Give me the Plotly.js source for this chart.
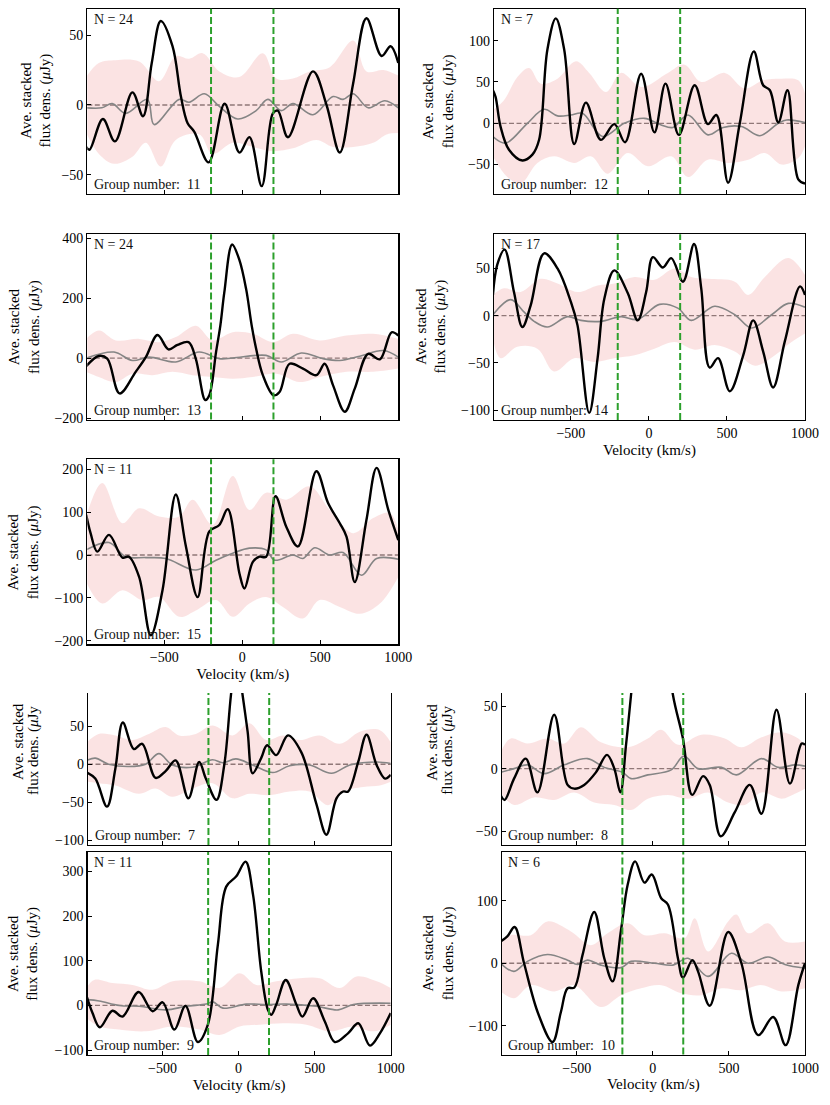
<!DOCTYPE html>
<html>
<head>
<meta charset="utf-8">
<script src="https://cdn.plot.ly/plotly-3.0.1.min.js"></script>
<style>
  html, body { margin: 0; padding: 0; background: #fff; }
  #graph { width: 830px; height: 1105px; }
</style>
</head>
<body>
<div id="graph"></div>
<script>
// edges of the line window, km/s (green dashed lines)
var windowEdges = [-200, 200];

// group labels and number of stacked sources per panel (null = cropped off)
var groupNumbers = [11, 12, 13, 14, 15, 7, 8, 9, 10];
var nSources = [24, 7, 24, 17, 11, null, null, 11, 6];

// x tick values (km/s)
var velTicks = [-500, 0, 500, 1000];

// ---- group 11 ----
var g11Vel = [-1000, -979, -893, -816, -704, -636, -580, -522, -447, -393, -350, -308, -215, -113, -18, 46, 125, 196, 228, 293, 453, 540, 625, 710, 796, 893, 951, 1000];
var g11Flux = [-30, -32, -10, -26, 9, -8, 30, 60, 42, 6, -13, -19, -41, 1, -34, -23, -58, -6, -4, -23, 24, 0, -34, 15, 62, 35, 42, 30];
var g11GreyVel = [-1000, -900, -833, -747, -608, -565, -404, -340, -243, -147, -29, 89, 164, 250, 325, 453, 582, 646, 711, 807, 914, 1000];
var g11Grey = [-2, -2, 1, -6, 4, -14, 4, 2, 8, -1, -10, -4, 4, -4, 1, -7, 6, 4, 8, -2, 3, -2];
var g11HiVel = [-1000, -919, -811, -661, -533, -426, -340, -254, -147, -18, 132, 218, 325, 432, 561, 711, 796, 904, 1000];
var g11Hi = [20, 30, 32, 31, 17, 35, 33, 37, 24, 20, 37, 19, 19, 24, 27, 46, 24, 25, 21];
var g11LoVel = [-1000, -919, -822, -704, -618, -522, -426, -275, -190, -61, 68, 196, 325, 475, 582, 711, 839, 925, 1000];
var g11Lo = [-20, -35, -42, -37, -27, -44, -25, -21, -35, -27, -30, -33, -31, -25, -30, -30, -27, -21, -20];

// ---- group 12 ----
var g12Vel = [-1000, -983, -951, -897, -811, -747, -704, -651, -597, -543, -479, -404, -308, -222, -153, -50, 35, 106, 192, 293, 378, 432, 507, 582, 672, 732, 775, 829, 888, 957, 1000];
var g12Flux = [40, 32, -4, -32, -45, -38, -20, 89, 127, 89, -25, 25, -20, -1, -23, 60, -11, 48, -14, 46, -1, 10, -72, 0, 87, 46, 40, 1, 40, -68, -73];
var g12GreyVel = [-1000, -919, -779, -672, -586, -501, -426, -297, -158, -29, 78, 153, 250, 378, 475, 593, 711, 829, 882, 1000];
var g12Grey = [-16, -24, 0, 17, 9, 10, 12, -16, 0, 6, -2, -5, 10, -14, -5, -4, -15, 0, 4, 1];
var g12HiVel = [-1000, -929, -843, -768, -693, -586, -468, -383, -275, -179, -50, 121, 228, 335, 486, 614, 732, 850, 957, 1000];
var g12Hi = [16, 28, 56, 67, 48, 54, 75, 61, 38, 61, 44, 61, 71, 50, 61, 42, 52, 54, 52, 36];
var g12LoVel = [-1000, -908, -822, -715, -608, -479, -372, -265, -136, -7, 143, 250, 378, 507, 636, 743, 850, 957, 1000];
var g12Lo = [-40, -65, -73, -48, -40, -48, -40, -61, -36, -52, -40, -65, -44, -48, -44, -36, -50, -42, -28];

// ---- group 13 ----
var g13Vel = [-1000, -919, -865, -786, -683, -618, -543, -473, -415, -344, -298, -237, -211, -168, -140, -115, -65, -20, 25, 60, 89, 132, 200, 239, 303, 389, 475, 528, 582, 657, 721, 807, 882, 957, 1000];
var g13Flux = [-27, 7, -2, -118, -46, 3, 77, 29, 44, 53, -2, -140, -124, 20, 110, 219, 379, 330, 230, 110, 31, -57, -124, -113, -19, -35, -57, -19, -91, -179, -102, 14, -4, 86, 75];
var g13GreyVel = [-1000, -822, -704, -597, -426, -276, -147, -61, 153, 250, 378, 518, 625, 753, 904, 1000];
var g13Grey = [0, 20, -8, 3, -13, 20, -2, 0, 9, -13, 17, -2, -8, 6, 25, 3];
var g13HiVel = [-1000, -919, -811, -661, -533, -426, -297, -190, -61, 68, 196, 325, 496, 668, 839, 1000];
var g13Hi = [64, 92, 59, 64, 53, 70, 108, 59, 86, 81, 53, 81, 59, 75, 81, 64];
var g13LoVel = [-1000, -919, -811, -704, -575, -447, -318, -190, -61, 68, 218, 368, 496, 668, 839, 1000];
var g13Lo = [-46, -63, -80, -52, -57, -46, -57, -63, -69, -63, -52, -80, -63, -46, -46, -35];

// ---- group 14 ----
var g14Vel = [-1000, -972, -925, -865, -811, -758, -672, -586, -501, -458, -383, -329, -286, -222, -136, -72, -18, 25, 89, 143, 218, 289, 335, 389, 443, 518, 604, 668, 732, 796, 871, 968, 1000];
var g14Flux = [22, 54, 70, 25, -12, 11, 66, 50, 15, -10, -103, -45, 18, 48, 24, -5, 25, 62, 51, 61, 36, 76, 29, -55, -45, -80, -42, -5, -38, -76, -27, 31, 22];
var g14GreyVel = [-1000, -886, -801, -736, -651, -522, -436, -308, -179, -72, 68, 185, 271, 421, 550, 657, 786, 893, 1000];
var g14Grey = [1, 17, 4, -6, -12, -1, -5, -6, -1, -4, 12, 8, -5, 10, 1, -13, 1, 13, 9];
var g14HiVel = [-1000, -929, -822, -694, -586, -458, -329, -222, -93, 35, 164, 271, 378, 550, 636, 743, 893, 1000];
var g14Hi = [22, 29, 25, 39, 34, 25, 32, 34, 41, 38, 50, 41, 39, 36, 22, 41, 61, 43];
var g14LoVel = [-1000, -951, -844, -715, -608, -479, -350, -222, -93, 35, 164, 293, 421, 550, 679, 807, 914, 1000];
var g14Lo = [-24, -45, -33, -35, -59, -45, -49, -45, -42, -35, -28, -36, -31, -38, -53, -42, -28, -19];

// ---- group 15 ----
var g15Vel = [-1000, -972, -929, -854, -768, -726, -661, -586, -511, -426, -361, -286, -211, -147, -93, -18, 14, 68, 110, 153, 213, 282, 357, 475, 550, 625, 668, 721, 796, 861, 936, 1000];
var g15Flux = [94, 51, 8, 47, -6, -4, -51, -187, -82, 141, 20, -98, 55, 70, 107, -43, -78, -16, -4, -4, 137, 66, 20, 195, 121, 74, 43, -63, 82, 203, 105, 35];
var g15GreyVel = [-1000, -854, -747, -618, -490, -297, -168, -61, 46, 153, 207, 325, 389, 464, 561, 646, 764, 861, 1000];
var g15Grey = [12, 29, -4, -6, -8, -35, -12, 4, 16, 12, -12, 0, -8, 17, 0, 6, -47, -8, -10];
var g15HiVel = [-1000, -897, -768, -661, -533, -404, -318, -190, -61, 46, 153, 282, 432, 561, 711, 839, 946, 1000];
var g15Hi = [90, 168, 74, 109, 90, 90, 129, 70, 184, 105, 145, 129, 160, 105, 51, 86, 98, 59];
var g15LoVel = [-1000, -897, -768, -640, -533, -404, -297, -168, -61, 46, 153, 260, 389, 496, 625, 754, 882, 1000];
var g15Lo = [-63, -113, -82, -105, -98, -144, -129, -105, -144, -113, -98, -121, -148, -105, -121, -137, -113, -51];

// ---- group 7 ----
var g7Vel = [-1000, -945, -868, -813, -764, -691, -636, -548, -482, -416, -332, -261, -217, -147, -96, -52, -15, 25, 58, 91, 147, 186, 246, 323, 411, 510, 577, 643, 687, 720, 786, 841, 907, 963, 1000];
var g7Flux = [-11, -19, -56, -6, 55, 20, 27, -18, -9, 5, -45, 3, -19, -47, -1, 91, 150, 91, 43, -12, 8, 25, 12, 38, 16, -52, -93, -45, -36, -36, 3, 39, -1, -19, -14];
var g7GreyVel = [-1000, -945, -857, -724, -614, -526, -438, -305, -173, -107, -19, 91, 224, 334, 466, 610, 731, 907, 1000];
var g7Grey = [5, 8, 0, -3, 0, 14, -1, -4, 6, 2, 7, -1, -11, -2, -1, -12, -1, 3, 1];
var g7HiVel = [-1000, -923, -813, -702, -592, -482, -394, -283, -173, -41, 69, 180, 290, 400, 533, 665, 797, 929, 1000];
var g7Hi = [29, 40, 38, 32, 40, 49, 38, 40, 51, 38, 54, 32, 38, 32, 38, 27, 43, 45, 29];
var g7LoVel = [-1000, -923, -813, -658, -548, -438, -305, -173, -41, 69, 202, 334, 466, 588, 687, 819, 929, 1000];
var g7Lo = [-23, -25, -28, -39, -32, -43, -32, -25, -45, -39, -41, -36, -36, -54, -36, -30, -28, -23];

// ---- group 8 ----
var g8Vel = [-1000, -974, -912, -835, -758, -648, -560, -516, -451, -374, -301, -253, -213, -176, -143, -90, -20, 60, 132, 198, 259, 330, 374, 446, 538, 637, 714, 813, 901, 978, 1000];
var g8Flux = [-21, -25, -8, 8, -19, 43, -13, -16, -13, -3, 11, 0, -19, 19, 59, 120, 150, 130, 59, 24, -21, -6, -13, -54, -35, -13, -36, 47, -12, 20, 19];
var g8GreyVel = [-1000, -912, -824, -714, -582, -429, -319, -198, -143, -33, 121, 204, 297, 451, 549, 714, 824, 934, 1000];
var g8Grey = [-3, 0, 3, -4, 3, 8, 1, -3, -8, -5, -1, 10, 0, 1, -5, 8, 1, 3, 2];
var g8HiVel = [-1000, -934, -824, -692, -582, -473, -341, -165, -33, 55, 165, 319, 473, 582, 714, 846, 956, 1000];
var g8Hi = [13, 24, 20, 24, 20, 33, 21, 17, 24, 31, 19, 27, 24, 17, 25, 29, 24, 19];
var g8LoVel = [-1000, -912, -780, -648, -516, -385, -253, -143, -33, 99, 231, 363, 495, 604, 714, 846, 934, 1000];
var g8Lo = [-19, -29, -23, -25, -19, -27, -29, -33, -24, -21, -24, -19, -27, -29, -19, -24, -20, -16];

// ---- group 9 ----
var g9Vel = [-1000, -960, -912, -829, -763, -657, -565, -499, -422, -349, -268, -202, -136, -81, -15, 46, 95, 149, 193, 215, 248, 310, 380, 420, 490, 567, 633, 721, 787, 864, 930, 1000];
var g9Flux = [22, -17, -49, -12, -25, 30, -13, 7, -54, -1, -82, -43, 136, 266, 289, 322, 248, 76, -10, -21, 2, 57, 2, -25, 16, -36, -82, -62, -40, -90, -62, -17];
var g9GreyVel = [-1000, -916, -785, -653, -477, -345, -213, -169, -103, 51, 182, 314, 512, 655, 754, 1000];
var g9Grey = [13, 10, 0, -2, -10, -2, 3, 8, -6, 3, 2, 3, -2, -10, 2, 5];
var g9HiVel = [-1000, -949, -829, -697, -565, -433, -257, -125, 7, 116, 248, 402, 534, 666, 776, 908, 1000];
var g9Hi = [39, 57, 50, 46, 35, 54, 54, 39, 72, 46, 54, 61, 61, 39, 65, 54, 39];
var g9LoVel = [-1000, -916, -785, -609, -433, -257, -125, 7, 138, 292, 446, 600, 754, 886, 1000];
var g9Lo = [-28, -47, -54, -58, -47, -54, -66, -47, -43, -40, -43, -58, -47, -58, -43];

// ---- group 10 ----
var g10Vel = [-1000, -956, -908, -846, -754, -659, -604, -560, -516, -462, -385, -319, -264, -209, -165, -116, -55, -7, 55, 99, 165, 198, 260, 297, 374, 495, 582, 692, 791, 873, 956, 1000];
var g10Flux = [35, 43, 58, 0, -80, -126, -78, -40, -39, 13, 82, 8, -29, 53, 126, 163, 129, 142, 104, 94, 8, -23, 5, -13, -68, 50, 0, -115, -86, -131, -35, 0];
var g10GreyVel = [-1000, -912, -824, -692, -560, -495, -429, -341, -209, -143, 11, 132, 231, 363, 516, 626, 758, 868, 1000];
var g10Grey = [0, -13, 3, 14, 5, -2, 5, -3, -7, 3, 0, -3, 8, -21, 16, 0, 10, -2, -8];
var g10HiVel = [-1000, -934, -802, -692, -538, -407, -297, -165, -55, 77, 209, 275, 363, 495, 549, 626, 758, 868, 1000];
var g10Hi = [35, 45, 45, 67, 51, 29, 48, 64, 45, 48, 40, 72, 19, 67, 78, 48, 64, 35, 35];
var g10LoVel = [-1000, -912, -802, -648, -516, -341, -209, -77, 55, 187, 319, 451, 582, 714, 846, 1000];
var g10Lo = [-45, -56, -35, -45, -35, -70, -51, -40, -35, -48, -51, -40, -43, -35, -45, -40];

// y tick values per panel
var yTicks = [
    [-50, 0, 50], [-50, 0, 50, 100], [-200, 0, 200, 400], [-100, -50, 0, 50], [-200, -100, 0, 100, 200],
    [-100, -50, 0, 50], [-50, 0, 50], [-100, 0, 100, 200, 300], [-100, 0, 100]
];

// panels in drawing order, built from the arrays above
var panels = [
    [g11Vel, g11Flux, g11GreyVel, g11Grey, g11HiVel, g11Hi, g11LoVel, g11Lo],
    [g12Vel, g12Flux, g12GreyVel, g12Grey, g12HiVel, g12Hi, g12LoVel, g12Lo],
    [g13Vel, g13Flux, g13GreyVel, g13Grey, g13HiVel, g13Hi, g13LoVel, g13Lo],
    [g14Vel, g14Flux, g14GreyVel, g14Grey, g14HiVel, g14Hi, g14LoVel, g14Lo],
    [g15Vel, g15Flux, g15GreyVel, g15Grey, g15HiVel, g15Hi, g15LoVel, g15Lo],
    [g7Vel, g7Flux, g7GreyVel, g7Grey, g7HiVel, g7Hi, g7LoVel, g7Lo],
    [g8Vel, g8Flux, g8GreyVel, g8Grey, g8HiVel, g8Hi, g8LoVel, g8Lo],
    [g9Vel, g9Flux, g9GreyVel, g9Grey, g9HiVel, g9Hi, g9LoVel, g9Lo],
    [g10Vel, g10Flux, g10GreyVel, g10Grey, g10HiVel, g10Hi, g10LoVel, g10Lo]
];

// page geometry (px): [left, right, top, bottom] of each plot box
var W = 830, H = 1105;
var boxes = [
    [87.3, 398.3, 8.7, 194], [494, 805, 8.7, 194],
    [87.3, 398.3, 234.3, 419.5], [494, 805, 234.3, 420],
    [87.3, 398.3, 459.3, 644.3],
    [88, 390.7, 693, 845], [501.7, 805, 693, 845],
    [87.5, 390.7, 852, 1055], [501.7, 805, 852, 1054.5]
];
var yRanges = [[-63.6, 68.8], [-85.6, 138.7], [-205, 413], [-110.5, 86.2], [-208, 223],
    [-106.6, 94], [-61, 60.4], [-111, 343.5], [-146, 178]];
// which panels show x tick labels and the velocity title
var showVel = [false, false, false, true, true, false, false, true, true];
// panels whose top is cropped off in the original figure
var cropped = [false, false, false, false, false, true, true, false, false];
// y label centres (px) [x, y]
var yLabelPos = [[35.5, 101], [438.3, 101], [24, 327], [430.5, 327], [23.3, 552], null, null, [23.3, 953.5], [438.3, 953]];

var FONT = 'Liberation Serif, Times New Roman, serif';
var px2x = function(p) { return p / W; };
var px2y = function(p) { return 1 - p / H; };

var traces = [];
var shapes = [];
var annotations = [];
var layout = {
    width: W, height: H,
    margin: {l: 0, r: 0, t: 0, b: 0},
    paper_bgcolor: 'white', plot_bgcolor: 'white',
    showlegend: false,
    font: {family: FONT, size: 13, color: 'black'}
};

panels.forEach(function(p, i) {
    var sx = i === 0 ? '' : String(i + 1);
    var xa = 'x' + sx, ya = 'y' + sx;
    var box = boxes[i];

    // noise band: lower edge then upper edge filled down to it
    traces.push({x: p[6], y: p[7], xaxis: xa, yaxis: ya, mode: 'lines',
        line: {width: 0, shape: 'spline', smoothing: 1}, hoverinfo: 'skip'});
    traces.push({x: p[4], y: p[5], xaxis: xa, yaxis: ya, mode: 'lines', fill: 'tonexty',
        fillcolor: 'rgba(230,80,80,0.16)', line: {width: 0, shape: 'spline', smoothing: 1}, hoverinfo: 'skip'});
    // grey curve
    traces.push({x: p[2], y: p[3], xaxis: xa, yaxis: ya, mode: 'lines',
        line: {color: '#858585', width: 1.6, shape: 'spline', smoothing: 1}});
    // stacked spectrum
    traces.push({x: p[0], y: p[1], xaxis: xa, yaxis: ya, mode: 'lines',
        line: {color: 'black', width: 2.4, shape: 'spline', smoothing: 1}});

    var xKey = i === 0 ? 'xaxis' : 'xaxis' + (i + 1);
    var yKey = i === 0 ? 'yaxis' : 'yaxis' + (i + 1);
    layout[xKey] = {
        domain: [px2x(box[0]), px2x(box[1])], anchor: ya,
        range: [-993, 1000], tickvals: velTicks, ticks: 'inside', ticklen: 4, tickcolor: 'black',
        showline: true, mirror: !cropped[i], linecolor: 'black', linewidth: 1.2,
        showgrid: false, zeroline: false, showticklabels: showVel[i],
        tickfont: {family: FONT, size: 14, color: 'black'}
    };
    if (showVel[i]) {
        layout[xKey].title = {text: 'Velocity (km/s)', font: {family: FONT, size: 15, color: 'black'}, standoff: 4};
    }
    layout[yKey] = {
        domain: [px2y(box[3]), px2y(box[2])], anchor: xa,
        range: yRanges[i], tickvals: yTicks[i], ticks: 'inside', ticklen: 4, tickcolor: 'black',
        showline: true, mirror: true, linecolor: 'black', linewidth: 1.2,
        showgrid: false, zeroline: false,
        tickfont: {family: FONT, size: 14, color: 'black'}
    };

    // zero level
    shapes.push({type: 'line', xref: xa + ' domain', yref: ya, x0: 0, x1: 1, y0: 0, y1: 0,
        line: {color: '#808080', width: 1.3, dash: '5px,2.5px'}, layer: 'below'});
    // line window edges
    windowEdges.forEach(function(v) {
        shapes.push({type: 'line', xref: xa, yref: ya + ' domain', x0: v, x1: v, y0: 0, y1: 1,
            line: {color: '#2ca02c', width: 2, dash: '7px,3px'}, layer: 'above'});
    });

    // labels inside the box
    if (nSources[i] !== null) {
        annotations.push({xref: xa + ' domain', yref: ya + ' domain', x: 0.015, y: 1, yshift: -1,
            xanchor: 'left', yanchor: 'top', showarrow: false, text: 'N = ' + nSources[i],
            font: {family: FONT, size: 14, color: '#111'}});
    }
    annotations.push({xref: xa + ' domain', yref: ya + ' domain', x: 0.015, y: 0, yshift: 0,
        xanchor: 'left', yanchor: 'bottom', showarrow: false, text: 'Group number:  ' + groupNumbers[i],
        font: {family: FONT, size: 14, color: '#111'}});

    // y axis label
    if (yLabelPos[i]) {
        annotations.push({xref: 'paper', yref: 'paper', x: px2x(yLabelPos[i][0]), y: px2y(yLabelPos[i][1]),
            xanchor: 'center', yanchor: 'middle', textangle: -90, showarrow: false,
            text: 'Ave. stacked<br>flux dens. (<i>μ</i>Jy)', font: {family: FONT, size: 15, color: 'black'}});
    } else {
        // the top of these panels is cut off, so only part of the label shows
        var lx = box[0] - 70;
        annotations.push({xref: 'paper', yref: 'paper', x: px2x(lx), y: px2y(742),
            xanchor: 'center', yanchor: 'middle', textangle: -90, showarrow: false,
            text: 'Ave. stacked', font: {family: FONT, size: 15, color: 'black'}});
        annotations.push({xref: 'paper', yref: 'paper', x: px2x(lx + 15.5), y: px2y(797),
            xanchor: 'center', yanchor: 'bottom', textangle: -90, showarrow: false,
            text: 'flux dens. (<i>μ</i>Jy', font: {family: FONT, size: 15, color: 'black'}});
    }
});

layout.shapes = shapes;
layout.annotations = annotations;

Plotly.newPlot('graph', traces, layout, {staticPlot: true});
</script>
</body>
</html>
